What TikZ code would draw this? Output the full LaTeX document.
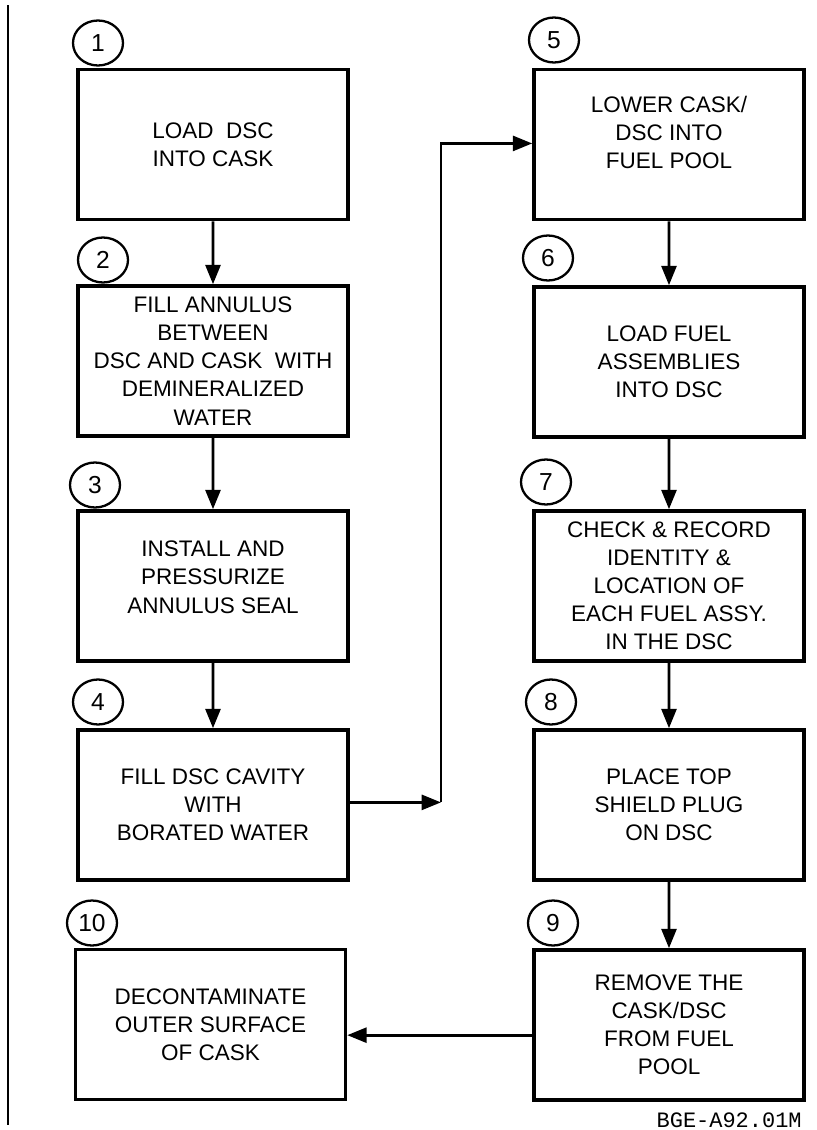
\documentclass[tikz,border=0pt]{standalone}
\usepackage{fontspec}
\setmainfont{Liberation Sans}
\newfontfamily\codefont{Liberation Mono}
\usetikzlibrary{arrows.meta,shapes.geometric}

\tikzset{
  stepbox/.style={draw=black, line width=2pt, rectangle, minimum width=5.4cm,
    minimum height=3cm, align=center, inner sep=0pt,
    font=\fontsize{12.8}{16}\selectfont},
  stepnum/.style={draw=black, line width=1.3pt, ellipse, minimum width=1cm,
    minimum height=0.9cm, inner sep=0pt, font=\fontsize{14}{14}\selectfont},
  flow/.style={black, line width=1.6pt, -{Triangle[length=11pt,width=8.5pt]}},
}

\begin{document}
\begin{tikzpicture}[scale=0.2]
\useasboundingbox (0,0) rectangle (81.7,-113);
\draw [black, line width=1.3pt] (0.8,-0.5) -- (0.8,-112.5);
% left column
\node [stepbox] (b1) at (21.3,-14.45) {LOAD\ \ DSC\\INTO CASK};
\node [stepbox] (b2) at (21.3,-36.1) {FILL ANNULUS\\BETWEEN\\DSC AND CASK\ \ WITH\\DEMINERALIZED\\WATER};
\node [stepbox] (b3) at (21.3,-58.6) {INSTALL AND\\PRESSURIZE\\ANNULUS SEAL\\[-5.8pt]};
\node [stepbox] (b4) at (21.3,-80.5) {FILL DSC CAVITY\\WITH\\BORATED WATER};
\node [stepbox] (b10) at (21.05,-102.45) {DECONTAMINATE\\OUTER SURFACE\\OF CASK};
% right column
\node [stepbox] (b5) at (66.9,-14.45) {LOWER CASK/\\DSC INTO\\FUEL POOL\\[-2.3pt]};
\node [stepbox] (b6) at (66.9,-36.2) {LOAD FUEL\\ASSEMBLIES\\INTO DSC};
\node [stepbox] (b7) at (66.9,-58.6) {CHECK \& RECORD\\IDENTITY \&\\LOCATION OF\\EACH FUEL ASSY.\\IN THE DSC};
\node [stepbox] (b8) at (66.9,-80.5) {PLACE TOP\\SHIELD PLUG\\ON DSC};
\node [stepbox] (b9) at (66.9,-102.5) {REMOVE THE\\CASK/DSC\\FROM FUEL\\POOL};
% step numbers
\node [stepnum] (n1) at (9.8,-4.3) {1};
\node [stepnum] (n2) at (10.3,-26.0) {2};
\node [stepnum] (n3) at (9.5,-48.5) {3};
\node [stepnum] (n4) at (9.8,-70.2) {4};
\node [stepnum] (n10) at (9.2,-92.3) {10};
\node [stepnum] (n5) at (55.4,-4.0) {5};
\node [stepnum] (n6) at (54.8,-25.8) {6};
\node [stepnum] (n7) at (54.6,-48.2) {7};
\node [stepnum] (n8) at (55.1,-70.2) {8};
\node [stepnum] (n9) at (55.3,-92.3) {9};
% drawing number
\node [anchor=east, inner sep=0pt, font=\codefont\fontsize{12.5}{12.5}\selectfont] (dwg) at (80.2,-112) {BGE-A92.01M};
% connectors
\draw [flow] (b1) -- (b2);
\draw [flow] (b2) -- (b3);
\draw [flow] (b3) -- (b4);
\coordinate (c4) at ([yshift=7.4pt]b4.east);
\coordinate (c5) at ([yshift=3pt]b5.west);
\coordinate (turn) at (44.1,0);
\draw [flow] (c4) -- (c4 -| turn);
\draw [flow] (c4 -| turn) |- (c5);
\draw [flow] (b5) -- (b6);
\draw [flow] (b6) -- (b7);
\draw [flow] (b7) -- (b8);
\draw [flow] (b8) -- (b9);
\coordinate (c9) at ([yshift=-29pt]b9.west);
\draw [flow] (c9) -- (c9 -| b10.east);
\end{tikzpicture}
\end{document}
